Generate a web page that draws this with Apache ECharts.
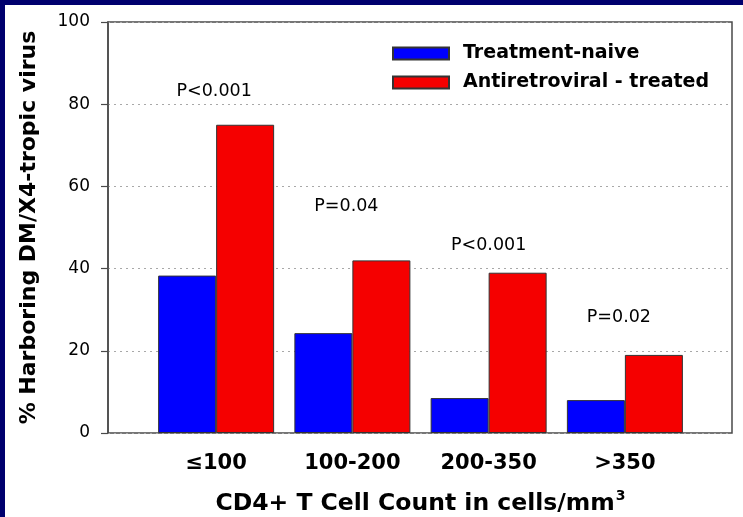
<!DOCTYPE html>
<html>
<head>
<meta charset="utf-8">
<script src="https://cdn.jsdelivr.net/npm/echarts@6/dist/echarts.min.js"></script>
<style>
  html, body { margin: 0; padding: 0; background: #00006e; }
  #panel { position: absolute; left: 5px; top: 5px; width: 738px; height: 512px; background: #ffffff; }
  #chart { position: absolute; left: 0; top: 0; width: 743px; height: 517px; }
</style>
</head>
<body>
<div id="panel"></div>
<div id="chart"></div>
<script>
// CD4+ count bands on the x axis
const categories = ['≤100', '100-200', '200-350', '>350'];
// % of patients harbouring DM/X4-tropic virus
const naiveValues = [38.3, 24.3, 8.5, 8.0];
const treatedValues = [75, 42, 39, 19];
// significance annotations and the height (in % units) they sit at
const pLabels = ['P<0.001', 'P=0.04', 'P<0.001', 'P=0.02'];
const pLabelHeights = [83, 55, 45.7, 28];
const yTicks = { min: 0, max: 100, step: 20 };

const FONT = 'DejaVu Sans';
const INK = '#000000';

const chart = echarts.init(document.getElementById('chart'), null, { renderer: 'canvas' });

const pOffsets = [[-2, 0], [-6, 0], [0, 0], [-6, 0]];

chart.setOption({
  backgroundColor: 'transparent',
  animation: false,
  grid: [
    // framed plotting area
    { left: 108, right: 11, top: 22, bottom: 84, show: true, outerBoundsMode: 'none', containLabel: false,
      borderColor: '#4a4a4a', borderWidth: 1.5, backgroundColor: 'transparent' },
    // bar area (inset from the frame)
    { left: 148, right: 50, top: 22, bottom: 84, outerBoundsMode: 'none', containLabel: false }
  ],
  legend: {
    orient: 'vertical',
    left: 387,
    top: 39,
    itemWidth: 56,
    itemHeight: 12,
    itemGap: 10,
    icon: 'rect',
    textStyle: { fontFamily: FONT, fontWeight: 'bold', fontSize: 19, color: INK, lineHeight: 19, padding: [0, 0, 0, 9] },
    data: ['Treatment-naive', 'Antiretroviral - treated']
  },
  xAxis: [
    { gridIndex: 0, type: 'value', min: 0, max: 1, show: false },
    {
      gridIndex: 1, type: 'category', data: categories,
      axisLine: { show: false }, axisTick: { show: false },
      axisLabel: { fontFamily: FONT, fontWeight: 'bold', fontSize: 21, color: INK, margin: 20 },
      name: '{a|CD4+ T Cell Count in cells/mm}{s|3}',
      nameLocation: 'middle',
      nameGap: 56,
      nameTextStyle: {
        rich: {
          a: { fontFamily: FONT, fontWeight: 'bold', fontSize: 23.5, color: INK, lineHeight: 30 },
          s: { fontFamily: FONT, fontWeight: 'bold', fontSize: 14, color: INK, lineHeight: 30, verticalAlign: 'top', padding: [0, 0, 12, 1] }
        }
      }
    }
  ],
  yAxis: [
    {
      gridIndex: 0, type: 'value', min: yTicks.min, max: yTicks.max, interval: yTicks.step,
      axisLine: { show: true, lineStyle: { color: '#4a4a4a', width: 1.5 } },
      axisTick: { show: true, length: 7, lineStyle: { color: '#4a4a4a', width: 1.2 } },
      axisLabel: { fontFamily: FONT, fontSize: 17, color: INK, margin: 18 },
      splitLine: { show: true, lineStyle: { type: [2, 4], color: '#a8a8a8', width: 1.2 } },
      name: '% Harboring DM/X4-tropic virus',
      nameLocation: 'middle',
      nameRotate: 90,
      nameGap: 68,
      nameTextStyle: { fontFamily: FONT, fontWeight: 'bold', fontSize: 22, color: INK }
    },
    { gridIndex: 1, type: 'value', min: yTicks.min, max: yTicks.max, interval: yTicks.step, show: false, splitLine: { show: false } }
  ],
  series: [
    {
      name: 'Treatment-naive', type: 'bar', xAxisIndex: 1, yAxisIndex: 1,
      data: naiveValues, barWidth: 58, barGap: '0%',
      itemStyle: { color: '#0000ff', borderColor: '#333333', borderWidth: 1 }
    },
    {
      name: 'Antiretroviral - treated', type: 'bar', xAxisIndex: 1, yAxisIndex: 1,
      data: treatedValues, barWidth: 58, barGap: '0%',
      itemStyle: { color: '#f50000', borderColor: '#333333', borderWidth: 1 }
    },
    {
      name: 'p', type: 'scatter', xAxisIndex: 1, yAxisIndex: 1,
      symbolSize: 0, silent: true,
      itemStyle: { color: INK, opacity: 1 },
      emphasis: { disabled: true },
      data: categories.map((c, i) => ({
        value: [c, pLabelHeights[i]],
        label: { offset: pOffsets[i] }
      })),
      label: {
        show: true, position: 'inside', opacity: 1,
        formatter: (p) => pLabels[p.dataIndex],
        fontFamily: FONT, fontWeight: 500, fontSize: 17.5, color: INK,
        textBorderWidth: 0, textBorderColor: 'transparent'
      }
    }
  ]
});
</script>
</body>
</html>
